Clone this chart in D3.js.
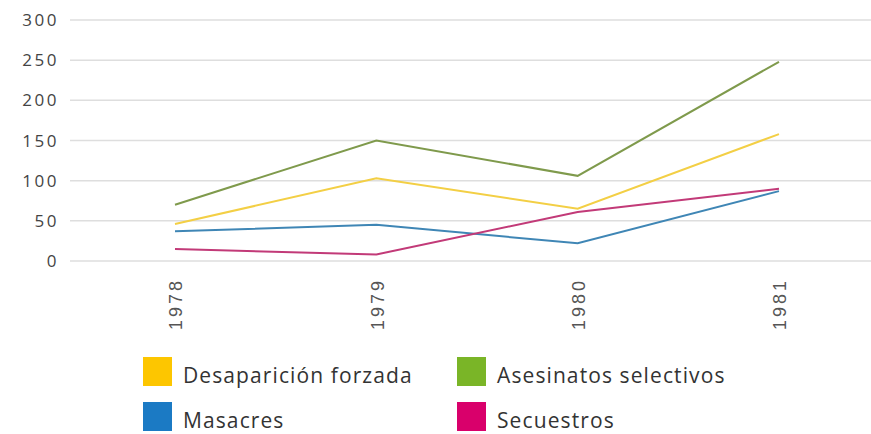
<!DOCTYPE html>
<html>
<head>
<meta charset="utf-8">
<script src="https://cdn.jsdelivr.net/npm/d3@7"></script>
<style>
  body { margin: 0; background: #fff; }
  svg { display: block; }
</style>
</head>
<body>
<svg id="chart" width="871" height="434"></svg>
<script>
// data
const years = ["1978", "1979", "1980", "1981"];
const desaparicion = [46, 103, 65, 158];
const asesinatos = [70, 150, 106, 248];
const masacres = [37, 45, 22, 87];
const secuestros = [15, 8, 61, 90];
const yTicks = [0, 50, 100, 150, 200, 250, 300];

const series = [
    {name: "Desaparición forzada", values: desaparicion, color: "#fdc600", line: "#f3cf45"},
    {name: "Asesinatos selectivos", values: asesinatos, color: "#7ab527", line: "#7f9a4c"},
    {name: "Masacres", values: masacres, color: "#1b7ac4", line: "#3f86b5"},
    {name: "Secuestros", values: secuestros, color: "#d9006b", line: "#c23a78"}
];

let svg = d3.select("#chart");

let x = d3.scalePoint().domain(years).range([175, 779]);
let y = d3.scaleLinear().domain([0, 300]).range([261, 20]);

// grid lines
svg.append("g")
    .selectAll("line")
    .data(yTicks)
    .enter().append("line")
    .attr("x1", 70)
    .attr("x2", 871)
    .attr("y1", d => y(d))
    .attr("y2", d => y(d))
    .attr("stroke", "#dedede")
    .attr("stroke-width", 1.5);

// y labels
svg.append("g")
    .selectAll("text")
    .data(yTicks)
    .enter().append("text")
    .attr("x", 59)
    .attr("y", d => y(d))
    .attr("dy", "0.36em")
    .attr("text-anchor", "end")
    .attr("font-family", "Open Sans")
    .attr("font-size", 17)
    .attr("letter-spacing", 2.5)
    .attr("fill", "#444")
    .text(d => d);

// x labels, rotated
svg.append("g")
    .selectAll("text")
    .data(years)
    .enter().append("text")
    .attr("transform", d => "translate(" + (x(d) + 1) + ",278) rotate(-90)")
    .attr("dy", "0.36em")
    .attr("text-anchor", "end")
    .attr("font-family", "Liberation Sans")
    .attr("font-size", 18)
    .attr("letter-spacing", 3)
    .attr("fill", "#555")
    .text(d => d);

let line = d3.line()
    .x((d, i) => x(years[i]))
    .y(d => y(d));

svg.append("g")
    .selectAll("path")
    .data(series)
    .enter().append("path")
    .attr("d", d => line(d.values))
    .attr("fill", "none")
    .attr("stroke", d => d.line)
    .attr("stroke-width", 2);

// legend
let legendPos = [[143, 357], [457, 357], [143, 402], [457, 402]];
let legend = svg.append("g")
    .selectAll("g")
    .data(series)
    .enter().append("g")
    .attr("transform", (d, i) => "translate(" + legendPos[i][0] + "," + legendPos[i][1] + ")");

legend.append("rect")
    .attr("width", 29)
    .attr("height", 29)
    .attr("fill", d => d.color);

legend.append("text")
    .attr("x", 40)
    .attr("y", 18)
    .attr("dy", "0.36em")
    .attr("font-family", "Open Sans")
    .attr("font-size", 21)
    .attr("letter-spacing", 1.1)
    .attr("fill", "#333")
    .text(d => d.name);
</script>
</body>
</html>
